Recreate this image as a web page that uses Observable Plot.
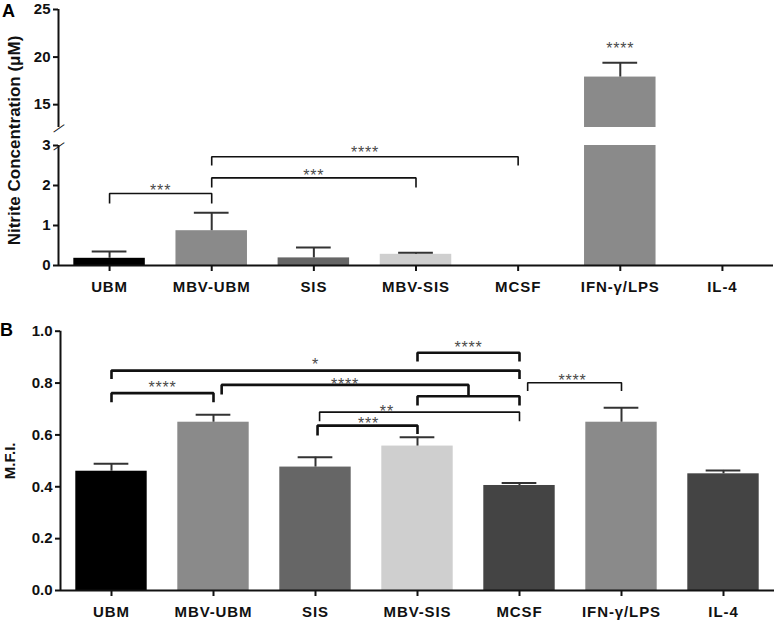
<!DOCTYPE html>
<html><head><meta charset="utf-8">
<script src="https://cdn.jsdelivr.net/npm/d3@7"></script>
<script src="https://cdn.jsdelivr.net/npm/@observablehq/plot@0.6"></script>
<style>
body{margin:0;background:#fff;}
#wrap{position:relative;width:777px;height:622px;font-family:"Liberation Sans",Arial,sans-serif;overflow:hidden;background:#fff;}
.panel{position:absolute;left:0;}
.letter{position:absolute;font-weight:bold;font-size:18px;color:#000;}
.stars text{letter-spacing:0.8px;}
#wrap g[aria-label="x-axis tick label"] text{letter-spacing:0.9px;}
</style></head><body>
<div id="wrap">
  <div id="pa2" class="panel" style="top:130px"></div>
  <div id="pa1" class="panel" style="top:0px"></div>
  <div id="pb" class="panel" style="top:300px"></div>
  <div class="letter" style="left:2px;top:1px">A</div>
  <div class="letter" style="left:0px;top:320px">B</div>
</div>
<script>
// ---------- data ----------
const categories = ["UBM", "MBV-UBM", "SIS", "MBV-SIS", "MCSF", "IFN-\u03b3/LPS", "IL-4"];
const nitriteMean = [0.18, 0.87, 0.19, 0.28, 0, 17.9, 0];
const nitriteErr  = [0.17, 0.45, 0.26, 0.04, 0, 1.5, 0];
const mfiMean = [0.46, 0.649, 0.476, 0.557, 0.405, 0.649, 0.45];
const mfiErr  = [0.029, 0.029, 0.038, 0.034, 0.010, 0.056, 0.013];
const barColors = ["#000000", "#8a8a8a", "#666666", "#cfcfcf", "#444444", "#8a8a8a", "#444444"];
const nitriteTicksLow = [0, 1, 2, 3];
const nitriteTicksHigh = [15, 20, 25];
const mfiTicks = [0, 0.2, 0.4, 0.6, 0.8, 1.0];
const nitriteBreak = [3, 12.6];   // axis break: lower segment top, upper segment bottom
const nitriteMax = 25;

// significance brackets: from / to (category index), bar height, left and right tick ends
const nitriteBrackets = [
  {from: 0, to: 1, y: 1.80, endL: 1.55, endR: 1.55},
  {from: 1, to: 3, y: 2.19, endL: 1.95, endR: 1.95},
  {from: 1, to: 4, y: 2.72, endL: 2.50, endR: 2.50}
];
const nitriteStars = [
  {text: "***", x: 0.5, y: 1.96},
  {text: "***", x: 2.0, y: 2.33},
  {text: "****", x: 2.5, y: 2.91}
];
const nitriteStarsHigh = [
  {text: "****", x: 5.0, y: 21.3}
];
const mfiBrackets = [
  {from: 0, to: 4, y: 0.848, endL: 0.816, endR: 0.816},
  {from: 0, to: 1, y: 0.761, endL: 0.726, endR: 0.726},
  {from: 1.08, to: 3.5, y: 0.793, endL: 0.756, endR: 0.749},
  {from: 3, to: 4, y: 0.749, endL: 0.713, endR: 0.713},
  {from: 3, to: 4, y: 0.917, endL: 0.883, endR: 0.883},
  {from: 2.04, to: 4, y: 0.688, endL: 0.653, endR: 0.653},
  {from: 2.02, to: 3, y: 0.636, endL: 0.598, endR: 0.604},
  {from: 4.08, to: 5, y: 0.801, endL: 0.769, endR: 0.769}
];
const mfiThin = [5, 7];
const mfiStars = [
  {text: "*", x: 2.0, y: 0.884},
  {text: "****", x: 0.5, y: 0.797},
  {text: "****", x: 2.29, y: 0.807},
  {text: "****", x: 3.5, y: 0.951},
  {text: "**", x: 2.7, y: 0.706},
  {text: "***", x: 2.52, y: 0.658},
  {text: "****", x: 4.52, y: 0.825}
];

// ---------- helpers ----------
const FONT = "'Liberation Sans', Arial, Helvetica, sans-serif";
const HALF = 0.35, CAP = 0.17;
const idx = d3.range(categories.length);
const rowsOf = (mean, err) => idx.map(i => ({i, cat: categories[i], mean: mean[i], err: err[i]}));
const bracketPoints = (list) => list.flatMap((b, k) => [
  {k, x: b.from, y: b.endL}, {k, x: b.from, y: b.y}, {k, x: b.to, y: b.y}, {k, x: b.to, y: b.endR}
]);
const colorScale = {domain: categories, range: barColors};
const xDomain = [-0.5, categories.length - 0.5];
const baseStyle = {fontFamily: FONT, fontWeight: "bold", color: "#111", background: "transparent", overflow: "visible"};
const starMark = (data) => Plot.text(data, {x: "x", y: "y", text: "text", fill: "#4a4a4a", fontSize: 16,
  fontWeight: "normal", fontFamily: FONT, dy: 4, className: "stars"});
const errStem = (rows) => Plot.ruleX(rows, {x: "i", y1: "mean", y2: d => d.mean + d.err, stroke: "#333", strokeWidth: 2});
const errCap = (rows) => Plot.ruleY(rows, {y: d => d.mean + d.err, x1: d => d.i - CAP, x2: d => d.i + CAP, stroke: "#333", strokeWidth: 2});
const breakMark = (v) => Plot.text([v], {x: () => -0.5, y: d => d, text: () => "\u2014", rotate: -35,
  fontSize: 13, fontWeight: "normal", fill: "#111"});

// ---------- panel A (broken axis: two stacked plots sharing x) ----------
const nRows = rowsOf(nitriteMean, nitriteErr);
const [bLo, bHi] = nitriteBreak;
const highRows = nRows.filter(d => d.mean > bHi);
const lowErrRows = nRows.filter(d => d.err > 0 && d.mean + d.err <= bLo);

const plotA1 = Plot.plot({
  width: 777, height: 130,
  marginLeft: 58, marginRight: 4, marginTop: 9, marginBottom: 3,
  style: baseStyle,
  x: {type: "linear", domain: xDomain, axis: null},
  y: {domain: [bHi, nitriteMax], axis: null},
  color: colorScale,
  marks: [
    Plot.rectY(highRows, {x1: d => d.i - HALF, x2: d => d.i + HALF, y1: bHi, y2: "mean", fill: "cat"}),
    errStem(highRows), errCap(highRows),
    Plot.ruleX([{y1: bHi, y2: nitriteMax}], {x: () => -0.5, y1: "y1", y2: "y2", stroke: "#111", strokeWidth: 2}),
    breakMark(bHi),
    Plot.axisY({ticks: nitriteTicksHigh, tickFormat: d => String(d), tickSize: 5, tickPadding: 3, fontSize: 15, strokeWidth: 2, label: null}),
    starMark(nitriteStarsHigh)
  ]
});

const plotA2 = Plot.plot({
  width: 777, height: 170,
  marginLeft: 58, marginRight: 4, marginTop: 15, marginBottom: 35,
  style: baseStyle,
  x: {type: "linear", domain: xDomain},
  y: {domain: [0, bLo]},
  color: colorScale,
  marks: [
    Plot.rectY(nRows, {x1: d => d.i - HALF, x2: d => d.i + HALF, y1: 0, y2: d => Math.min(d.mean, bLo), fill: "cat"}),
    errStem(lowErrRows), errCap(lowErrRows),
    Plot.ruleX([{y1: 0, y2: bLo}], {x: () => -0.5, y1: "y1", y2: "y2", stroke: "#111", strokeWidth: 2}),
    Plot.ruleY([0], {stroke: "#111", strokeWidth: 2}),
    breakMark(bLo),
    Plot.axisY({ticks: nitriteTicksLow, tickFormat: d => String(d), tickSize: 5, tickPadding: 3, fontSize: 15, strokeWidth: 2, label: null}),
    Plot.axisX({ticks: idx, tickFormat: i => categories[i], tickSize: 6, tickPadding: 10, fontSize: 15, strokeWidth: 2, label: null}),
    Plot.text(["Nitrite Concentration (\u03bcM)"], {frameAnchor: "left", rotate: -90, textAnchor: "middle", lineAnchor: "top",
      dx: -51, dy: -65, fontSize: 17, fontWeight: "bold", fill: "#111"}),
    Plot.line(bracketPoints(nitriteBrackets), {x: "x", y: "y", z: "k", stroke: "#111", strokeWidth: 1.6,
      strokeLinejoin: "miter", strokeLinecap: "butt"}),
    starMark(nitriteStars)
  ]
});
document.getElementById("pa2").append(plotA2);
document.getElementById("pa1").append(plotA1);

// ---------- panel B ----------
const mRows = rowsOf(mfiMean, mfiErr);
const thick = mfiBrackets.filter((b, k) => !mfiThin.includes(k));
const thin = mfiBrackets.filter((b, k) => mfiThin.includes(k));
const plotB = Plot.plot({
  width: 777, height: 322,
  marginLeft: 60, marginRight: 3, marginTop: 30.7, marginBottom: 32,
  style: baseStyle,
  x: {type: "linear", domain: xDomain},
  y: {domain: [0, 1]},
  color: colorScale,
  marks: [
    Plot.rectY(mRows, {x1: d => d.i - HALF, x2: d => d.i + HALF, y1: 0, y2: "mean", fill: "cat"}),
    errStem(mRows), errCap(mRows),
    Plot.ruleX([{y1: 0, y2: 1}], {x: () => -0.5, y1: "y1", y2: "y2", stroke: "#111", strokeWidth: 2}),
    Plot.ruleY([0], {stroke: "#111", strokeWidth: 2}),
    Plot.axisY({ticks: mfiTicks, tickFormat: d3.format(".1f"), tickSize: 5, tickPadding: 3, fontSize: 15, strokeWidth: 2,
      label: "M.F.I.", labelAnchor: "center", labelArrow: "none", labelOffset: 56}),
    Plot.axisX({ticks: idx, tickFormat: i => categories[i], tickSize: 6, tickPadding: 10, fontSize: 15, strokeWidth: 2, label: null}),
    Plot.line(bracketPoints(thick), {x: "x", y: "y", z: "k", stroke: "#111", strokeWidth: 2.6,
      strokeLinejoin: "miter", strokeLinecap: "butt"}),
    Plot.line(bracketPoints(thin), {x: "x", y: "y", z: "k", stroke: "#111", strokeWidth: 1.6,
      strokeLinejoin: "miter", strokeLinecap: "butt"}),
    starMark(mfiStars)
  ]
});
document.getElementById("pb").append(plotB);
</script>
</body></html>
